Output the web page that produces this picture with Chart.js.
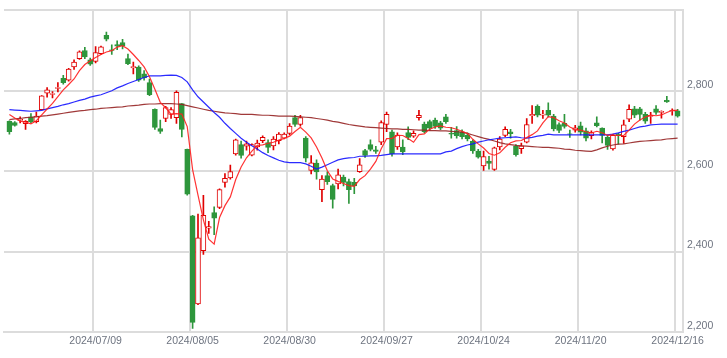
<!DOCTYPE html>
<html><head><meta charset="utf-8">
<script src="https://cdn.jsdelivr.net/npm/chart.js@4.4.1/dist/chart.umd.min.js"></script>
<style>html,body{margin:0;padding:0;background:#fff}#wrap{width:727px;height:358px}</style>
</head><body><div id="wrap"><canvas id="c" width="727" height="358"></canvas></div>
<script>
// Trading days shown (Japan, 2024)
const tradingDays = {
  '2024/06': [17,18,19,20,21,24,25,26,27,28],
  '2024/07': [1,2,3,4,5,8,9,10,11,12,16,17,18,19,22,23,24,25,26,29,30,31],
  '2024/08': [1,2,5,6,7,8,9,13,14,15,16,19,20,21,22,23,26,27,28,29,30],
  '2024/09': [2,3,4,5,6,9,10,11,12,13,17,18,19,20,24,25,26,27,30],
  '2024/10': [1,2,3,4,7,8,9,10,11,15,16,17,18,21,22,23,24,25,28,29,30,31],
  '2024/11': [1,5,6,7,8,11,12,13,14,15,18,19,20,21,22,25,26,27,28,29],
  '2024/12': [2,3,4,5,6,9,10,11,12,13,16]
};
const tickLabels = ['2024/07/09','2024/08/05','2024/08/30','2024/09/27','2024/10/24','2024/11/20','2024/12/16'];
const yTicks = [2200, 2400, 2600, 2800];

const openV = [2724,2721,2726,2718,2735,2723,2753,2794,2791,2806,
2831,2826,2859,2880,2900,2877,2873,2892,2938,2902,
2915,2920,2880,2857,2859,2842,2820,2754,2706,2731,
2741,2733,2768,2654,2489,2270,2402,2458,2497,2510,
2572,2583,2643,2666,2662,2640,2660,2676,2671,2663,
2676,2682,2694,2733,2716,2682,2602,2620,2554,2589,
2564,2568,2585,2574,2572,2599,2651,2666,2653,2672,
2716,2698,2660,2660,2696,2687,2733,2717,2723,2727,
2720,2735,2694,2701,2698,2690,2674,2650,2613,2625,
2604,2660,2689,2698,2662,2656,2672,2738,2761,2739,
2751,2737,2716,2719,2693,2702,2713,2700,2688,2720,
2707,2684,2655,2692,2686,2729,2755,2755,2741,2736,
2755,2746,2776,2749,2750];
const highV = [2725,2723,2735,2726,2743,2747,2788,2808,2798,2820,
2838,2856,2877,2899,2908,2881,2910,2911,2946,2914,
2924,2928,2891,2871,2862,2850,2829,2755,2727,2761,
2758,2800,2768,2655,2490,2493,2540,2475,2511,2556,
2594,2615,2680,2675,2675,2668,2677,2688,2678,2686,
2696,2695,2718,2739,2739,2686,2639,2628,2589,2598,
2568,2605,2590,2580,2582,2631,2654,2678,2662,2725,
2747,2702,2695,2678,2710,2700,2751,2722,2727,2732,
2724,2741,2709,2711,2703,2695,2678,2654,2650,2637,
2660,2686,2710,2704,2666,2670,2731,2763,2765,2751,
2770,2741,2720,2741,2702,2714,2722,2707,2700,2735,
2708,2690,2692,2694,2727,2765,2761,2759,2746,2746,
2763,2750,2786,2755,2754];
const lowV = [2692,2712,2720,2704,2720,2720,2752,2784,2782,2797,
2816,2824,2853,2878,2880,2863,2869,2890,2924,2890,
2902,2904,2865,2842,2823,2826,2788,2704,2694,2723,
2731,2719,2685,2540,2209,2268,2393,2445,2442,2507,
2560,2580,2640,2632,2652,2638,2652,2671,2646,2653,
2668,2680,2690,2711,2712,2623,2593,2580,2524,2567,
2508,2556,2563,2520,2544,2597,2634,2650,2644,2666,
2698,2637,2654,2641,2678,2684,2727,2695,2702,2706,
2703,2719,2682,2682,2680,2675,2644,2632,2602,2605,
2602,2653,2686,2682,2637,2644,2670,2719,2735,2731,
2735,2700,2696,2707,2684,2697,2690,2675,2680,2710,
2670,2654,2652,2667,2669,2723,2733,2727,2719,2719,
2741,2732,2771,2739,2734];
const closeV = [2698,2714,2729,2724,2723,2737,2787,2802,2793,2808,
2820,2854,2871,2897,2884,2866,2895,2909,2928,2900,
2911,2912,2867,2860,2826,2832,2790,2709,2699,2758,
2753,2796,2704,2543,2224,2434,2490,2462,2483,2554,
2582,2599,2678,2639,2668,2666,2670,2684,2659,2680,
2692,2692,2712,2716,2733,2632,2621,2598,2580,2574,
2530,2591,2572,2554,2563,2616,2639,2654,2649,2721,
2741,2643,2690,2648,2684,2694,2739,2698,2707,2711,
2707,2723,2692,2688,2686,2680,2650,2635,2636,2619,
2658,2680,2704,2693,2641,2663,2716,2741,2739,2742,
2739,2705,2701,2711,2692,2708,2697,2682,2696,2713,
2689,2664,2689,2688,2715,2754,2739,2741,2724,2739,
2746,2749,2772,2751,2737];
const ma5 = [2741,2732,2724,2722,2717.6,2725.4,2740,2754.6,2768.4,2785.4,
2802,2815.4,2829.2,2850,2865.2,2874.4,2882.6,2890.2,2896.4,2899.6,
2908.6,2912,2903.6,2890,2875.2,2859.4,2835,2803.4,2771.2,2757.6,
2741.8,2743,2742,2710.8,2604,2540.2,2479,2430.6,2418.6,2484.6,
2514.2,2536,2579.2,2610.4,2633.2,2650,2664.2,2665.4,2669.4,2671.8,
2677,2681.4,2687,2698.4,2709,2697,2682.8,2660,2632.8,2601,
2580.6,2574.6,2569.4,2564.2,2562,2579.2,2588.8,2605.2,2624.2,2655.8,
2680.8,2681.6,2688.8,2688.6,2681.2,2671.8,2691,2692.6,2704.4,2709.8,
2712.4,2709.2,2708,2704.2,2699.2,2693.8,2679.2,2667.8,2657.4,2644,
2639.6,2645.6,2659.4,2670.8,2675.2,2676.2,2683.4,2690.8,2700,2720.2,
2735.4,2733.2,2725.2,2719.6,2709.6,2703.4,2701.8,2698,2695,2699.2,
2695.4,2688.8,2690.2,2688.6,2689,2702,2717,2727.4,2734.6,2739.4,
2737.8,2739.8,2746,2751.4,2751];
const ma25 = [2753,2752,2751,2750,2749,2750,2751,2755,2758,2761,
2765,2768,2772,2776,2779,2784,2787,2790,2795,2800,
2807,2812,2818,2823,2828,2833,2837,2837,2837,2838,
2839,2838,2833,2822,2802,2785,2772,2759,2746,2734,
2719,2706,2694,2682,2672,2663,2655,2646,2639,2633,
2627,2623,2621,2621,2621,2618,2612,2605,2610,2616,
2622,2628,2631,2633,2634,2637,2637,2638,2638,2639,
2641,2643,2643,2643,2643,2643,2643,2643,2643,2643,
2643,2648,2650,2656,2661,2665,2668,2672,2675,2678,
2680,2682,2683,2684,2685,2683,2682,2684,2687,2689,
2692,2690,2690,2690,2690,2690,2690,2690,2690,2690,
2690,2690,2692,2695,2699,2702,2706,2710,2712,2715,
2716,2717,2717,2717,2717];
const ma75 = [2728,2730,2731,2733,2734,2735,2737,2738,2740,2742,
2744,2746,2748,2750,2751,2753,2754,2756,2757,2758,
2759,2760,2762,2763,2764,2766,2767,2767,2768,2768,
2768,2767,2766,2763,2760,2757,2754,2751,2749,2747,
2745,2744,2743,2741,2741,2741,2740,2739,2739,2738,
2737,2737,2737,2736,2735,2734,2733,2731,2729,2727,
2724,2722,2719,2716,2714,2712,2710,2709,2708,2707,
2706,2705,2705,2704,2704,2703,2702,2702,2701,2701,
2700,2700,2699,2698,2697,2694,2690,2686,2682,2679,
2675,2671,2668,2666,2664,2663,2662,2661,2660,2659,
2659,2658,2657,2655,2654,2652,2651,2650,2649,2653,
2658,2662,2665,2667,2668,2670,2672,2674,2675,2676,
2677,2678,2680,2681,2682];

// Build categories with one empty slot at each end
const categories = [''];
for (const m in tradingDays) for (const d of tradingDays[m]) categories.push(m + '/' + String(d).padStart(2, '0'));
categories.push('');
const pad = a => [null, ...a, null];

const UP = '#e00000', DOWN = '#2e963c', GRID = '#dcdcdc', TXT = '#6e7480';
const isUp = closeV.map((c, i) => c >= openV[i]);
const bodyData = pad(closeV.map((c, i) => [Math.min(c, openV[i]), Math.max(c, openV[i])]));
const wickData = pad(highV.map((h, i) => [lowV[i], h]));
const bodyFill = pad(isUp.map(u => u ? '#ffffff' : DOWN));
const candleCol = pad(isUp.map(u => u ? UP : DOWN));

const font = { family: "'Liberation Sans', Arial, sans-serif", size: 10.5 };

new Chart(document.getElementById('c'), {
  type: 'bar',
  data: {
    labels: categories,
    datasets: [
      { type: 'line', data: pad(ma5), borderColor: 'rgba(255,30,30,0.9)', borderWidth: 1.2, pointRadius: 0, tension: 0, order: 0 },
      { type: 'line', data: pad(ma25), borderColor: 'rgba(20,20,255,0.9)', borderWidth: 1.2, pointRadius: 0, tension: 0, order: 0 },
      { type: 'line', data: pad(ma75), borderColor: 'rgba(150,35,35,0.9)', borderWidth: 1.2, pointRadius: 0, tension: 0, order: 0 },
      { data: bodyData, backgroundColor: bodyFill, borderColor: candleCol, borderWidth: 1, borderSkipped: false, barThickness: 5, grouped: false, order: 1 },
      { data: wickData, backgroundColor: candleCol, borderWidth: 0, barThickness: 1, grouped: false, order: 2 }
    ]
  },
  options: {
    responsive: false,
    animation: false,
    layout: { padding: { left: 4, top: 3, right: 0, bottom: 0 } },
    plugins: { legend: { display: false }, tooltip: { enabled: false } },
    scales: {
      x: {
        offset: false,
        grid: {
          lineWidth: 2, drawTicks: false,
          color: ctx => (ctx.index === 0 || tickLabels.includes(categories[ctx.index])) ? GRID : 'rgba(0,0,0,0)'
        },
        border: { display: true, color: GRID, width: 2 },
        ticks: {
          autoSkip: false, maxRotation: 0, minRotation: 0, padding: 3, font, color: TXT,
          callback: (v, i) => tickLabels.includes(categories[i]) ? categories[i] : ''
        },
        afterFit: s => { s.height = 26; }
      },
      y: {
        position: 'right', min: 2200, max: 3000,
        grid: { color: GRID, lineWidth: 2, drawTicks: false },
        border: { display: true, color: GRID, width: 2 },
        ticks: {
          stepSize: 200, padding: 4, labelOffset: -6, font, color: TXT,
          callback: v => yTicks.includes(v) ? v.toLocaleString('en-US') : ''
        },
        afterFit: s => { s.width = 44; }
      }
    }
  }
});
</script></body></html>
